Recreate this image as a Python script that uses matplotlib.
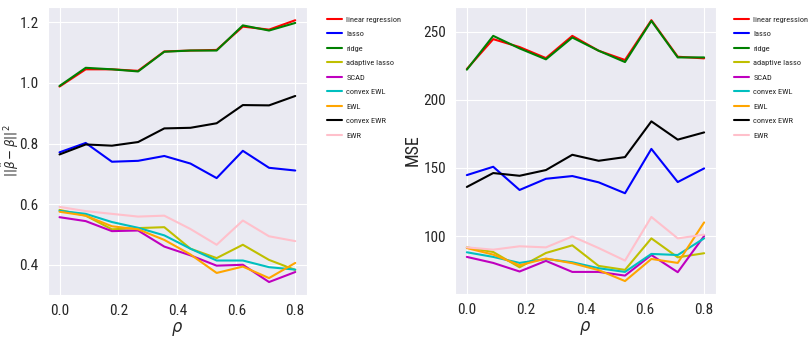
import matplotlib
matplotlib.use("Agg")
import matplotlib.pyplot as plt
import seaborn as sns

sns.set_style("darkgrid")
plt.rcParams["font.family"] = ["Roboto Condensed", "DejaVu Sans"]
plt.rcParams["font.stretch"] = "condensed"
plt.rcParams["mathtext.fontset"] = "dejavusans"

rho = [0.0, 0.0889, 0.1778, 0.2667, 0.3556, 0.4444, 0.5333, 0.6222, 0.7111, 0.8]

methods = ["linear regression", "lasso", "ridge", "adaptive lasso", "SCAD",
           "convex EWL", "EWL", "convex EWR", "EWR"]
colors = ["r", "b", "g", "y", "m", "c", "orange", "k", "pink"]

# squared estimation error ||beta_hat - beta||^2
err_linreg = [0.988, 1.045, 1.045, 1.040, 1.104, 1.107, 1.109, 1.186, 1.176, 1.207]
err_lasso = [0.771, 0.802, 0.740, 0.743, 0.759, 0.734, 0.686, 0.776, 0.720, 0.711]
err_ridge = [0.990, 1.050, 1.045, 1.038, 1.103, 1.107, 1.107, 1.190, 1.173, 1.198]
err_alasso = [0.581, 0.562, 0.517, 0.521, 0.524, 0.453, 0.422, 0.466, 0.416, 0.383]
err_scad = [0.557, 0.544, 0.511, 0.513, 0.460, 0.431, 0.397, 0.400, 0.343, 0.376]
err_cewl = [0.578, 0.568, 0.541, 0.522, 0.497, 0.453, 0.414, 0.414, 0.392, 0.384]
err_ewl = [0.575, 0.562, 0.527, 0.517, 0.482, 0.434, 0.373, 0.394, 0.356, 0.406]
err_cewr = [0.764, 0.797, 0.793, 0.805, 0.850, 0.852, 0.867, 0.927, 0.926, 0.957]
err_ewr = [0.591, 0.577, 0.568, 0.559, 0.562, 0.518, 0.466, 0.546, 0.494, 0.478]

# prediction mean squared error
mse_linreg = [222.5, 244.4, 238.6, 230.5, 246.8, 235.9, 229.1, 258.3, 231.5, 230.3]
mse_lasso = [144.7, 150.8, 133.8, 142.0, 144.0, 139.4, 131.4, 163.9, 139.6, 149.6]
mse_ridge = [222.0, 246.8, 237.6, 229.6, 245.6, 235.9, 227.6, 257.8, 231.0, 231.0]
mse_alasso = [91.7, 88.3, 77.1, 87.6, 93.2, 78.1, 75.2, 98.3, 84.4, 87.4]
mse_scad = [84.7, 80.3, 74.0, 81.8, 73.7, 73.7, 71.0, 86.1, 73.5, 100.0]
mse_cewl = [88.1, 84.7, 80.3, 83.2, 80.8, 76.4, 73.7, 86.9, 86.1, 98.3]
mse_ewl = [91.2, 86.4, 78.6, 83.5, 80.1, 75.0, 67.0, 83.2, 80.3, 110.0]
mse_cewr = [136.0, 146.2, 144.2, 148.4, 159.6, 155.2, 157.9, 184.1, 170.7, 176.0]
mse_ewr = [91.7, 90.0, 92.5, 91.7, 99.7, 91.2, 82.0, 114.0, 98.3, 101.0]

err_series = [err_linreg, err_lasso, err_ridge, err_alasso, err_scad,
              err_cewl, err_ewl, err_cewr, err_ewr]
mse_series = [mse_linreg, mse_lasso, mse_ridge, mse_alasso, mse_scad,
              mse_cewl, mse_ewl, mse_cewr, mse_ewr]

xticks = [0.0, 0.2, 0.4, 0.6, 0.8]
err_ticks = [0.4, 0.6, 0.8, 1.0, 1.2]
mse_ticks = [100, 150, 200, 250]

fig = plt.figure(figsize=(8.09, 3.40), dpi=100)
ax1 = fig.add_axes([0.059, 0.132, 0.3205, 0.847])
ax2 = fig.add_axes([0.5624, 0.135, 0.3226, 0.844])


def draw(ax, series, ylabel, ylab_size, ylab_xy, yticks, legend_x):
    for name, vals, c in zip(methods, series, colors):
        ax.plot(rho, vals, color=c, lw=1.5, label=name)
    ax.set_xticks(xticks)
    ax.set_xticklabels([f"{t:.1f}" for t in xticks])
    ax.set_yticks(yticks)
    ax.tick_params(axis="both", labelsize=11, pad=3)
    ax.set_xlabel(r"$\rho$", fontsize=13, labelpad=1)
    ax.set_ylabel(ylabel, fontsize=ylab_size)
    ax.yaxis.set_label_coords(*ylab_xy)
    ax.legend(loc="upper left", bbox_to_anchor=(legend_x, 0.953),
              bbox_transform=fig.transFigure, frameon=False,
              fontsize=6.0, borderpad=0, borderaxespad=0,
              handlelength=1.8, handletextpad=0.55, labelspacing=0.92)


draw(ax1, err_series, r"$||\hat{\beta} - \beta||^2$", 9.5, (-0.102, 0.5),
     err_ticks, 0.404)
draw(ax2, mse_series, "MSE", 13, (-0.126, 0.5), mse_ticks, 0.907)
ax2.set_yticklabels([str(t) for t in mse_ticks])

fig.savefig("out.png", dpi=100)
